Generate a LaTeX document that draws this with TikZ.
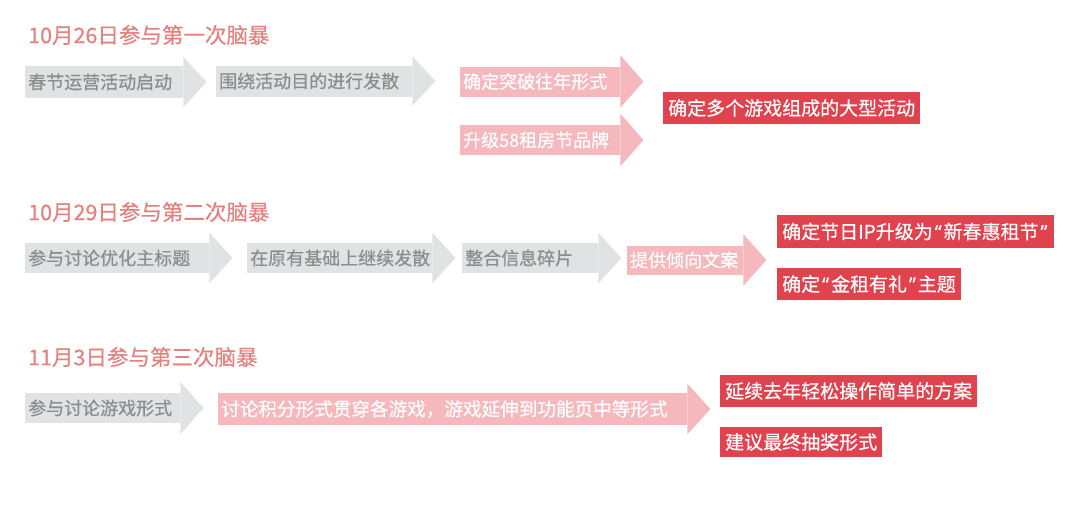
\documentclass[tikz,border=0pt]{standalone}
\usepackage{fontspec}
\setmainfont{Noto Sans CJK SC}[FakeBold=0.5]
\newfontfamily\quotefont{Noto Sans}[FakeBold=0.5]
\definecolor{titlered}{HTML}{E3827F}
\definecolor{grayfill}{HTML}{E1E2E4}
\definecolor{graytext}{HTML}{8C8C8C}
\definecolor{pinkfill}{HTML}{F5B8BC}
\definecolor{redfill}{HTML}{E0434D}
% head of a flow arrow, drawn on the east side of a body node
\newcommand\headof[3][10]{\fill[#3] ([yshift=#1pt]#2.north east) -- ([xshift=23pt]#2.east) -- ([yshift=-#1pt]#2.south east) -- cycle;}
\newcommand\openq{\kern2pt{\quotefont “}\kern2pt}
\newcommand\closeq{\kern2pt{\quotefont ”}\kern2pt}
\begin{document}
\begin{tikzpicture}[x=1pt,y=-1pt,
	title/.style={anchor=west,inner sep=0pt,text=titlered,font=\fontsize{21.5}{24}\selectfont},
	bodybox/.style={anchor=west,inner xsep=3pt,inner ysep=0pt,minimum height=31pt,align=left,font=\fontsize{18}{20}\selectfont},
	grayarr/.style={bodybox,fill=grayfill,text=graytext},
	pinkarr/.style={bodybox,fill=pinkfill,text=white},
	redbox/.style={anchor=west,inner xsep=5pt,inner ysep=0pt,minimum height=32pt,fill=redfill,text=white,font=\fontsize{19}{21}\selectfont}]
	\fill[white] (0,0) rectangle (1080,504);
	% first session
	\node (t1) at (28,35) [title] {10月26日参与第一次脑暴};
	\node (s1a) at (25,82) [grayarr,text width=152pt,minimum height=32pt] {春节运营活动启动};
	\node (s1b) at (216,81) [grayarr,text width=190pt] {围绕活动目的进行发散};
	\node (s1c) at (460,81.5) [pinkarr,text width=154pt,minimum height=30pt] {确定突破往年形式};
	\node (s1d) at (460,140) [pinkarr,text width=154pt,minimum height=30pt] {升级58租房节品牌};
	\node (r1) at (663,108) [redbox] {确定多个游戏组成的大型活动};
	\headof[9]{s1a}{grayfill}
	\headof[9]{s1b}{grayfill}
	\headof[11]{s1c}{pinkfill}
	\headof[11]{s1d}{pinkfill}
	% second session
	\node (t2) at (28,212) [title] {10月29日参与第二次脑暴};
	\node (s2a) at (25,258) [grayarr,text width=178pt,minimum height=30pt] {参与讨论优化主标题};
	\node (s2b) at (247,258) [grayarr,text width=179pt,minimum height=30pt] {在原有基础上继续发散};
	\node (s2c) at (462,258) [grayarr,text width=130pt,minimum height=30pt] {整合信息碎片};
	\node (s2d) at (627,260) [pinkarr,text width=110pt,minimum height=29pt] {提供倾向文案};
	\node (r2) at (777,231.5) [redbox,minimum height=33pt] {确定节日IP升级为\openq 新春惠租节\closeq};
	\node (r3) at (777,284) [redbox] {确定\openq 金租有礼\closeq 主题};
	\headof[10]{s2a}{grayfill}
	\headof[10]{s2b}{grayfill}
	\headof[10]{s2c}{grayfill}
	\headof[11]{s2d}{pinkfill}
	% third session
	\node (t3) at (28,357) [title] {11月3日参与第三次脑暴};
	\node (s3a) at (25,408) [grayarr,text width=149pt,minimum height=30pt] {参与讨论游戏形式};
	\node (s3b) at (218,409) [pinkarr,text width=463pt,minimum height=32pt,font=\fontsize{18.6}{20}\selectfont] {讨论积分形式贯穿各游戏，游戏延伸到功能页中等形式};
	\node (r4) at (720,391) [redbox] {延续去年轻松操作简单的方案};
	\node (r5) at (720,442) [redbox,minimum height=30pt] {建议最终抽奖形式};
	\headof[11]{s3a}{grayfill}
	\headof[9]{s3b}{pinkfill}
\end{tikzpicture}
\end{document}
